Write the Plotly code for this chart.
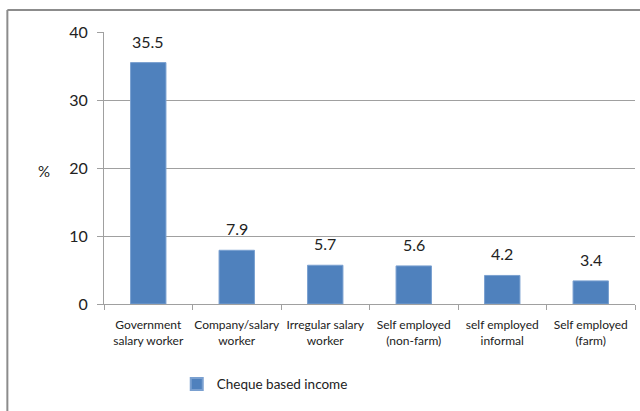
import plotly.graph_objects as go

# Share of households with cheque-based income, by employment type
categories = [
    "Government<br>salary worker",
    "Company/salary<br>worker",
    "Irregular salary<br>worker",
    "Self employed<br>(non-farm)",
    "self employed<br>informal",
    "Self employed<br>(farm)",
]
values = [35.5, 7.9, 5.7, 5.6, 4.2, 3.4]
series_name = "Cheque based income"
y_ticks = [0, 10, 20, 30, 40]

FONT = "Lato, 'Open Sans', sans-serif"
BLUE = "#4F81BD"
GRID = "#A0A0A0"

fig = go.Figure()
fig.add_trace(go.Bar(
    x=categories,
    y=values,
    name=series_name,
    marker=dict(color=BLUE, line=dict(color="#7AA0D0", width=1)),
    showlegend=True,
))

# value labels above each bar
for c, v in zip(categories, values):
    fig.add_annotation(
        x=c, y=v, text=f"{v:.1f}", showarrow=False,
        yanchor="bottom", yshift=10,
        font=dict(family=FONT, size=16, color="#222222"),
    )

# "%" axis caption
fig.add_annotation(
    xref="paper", yref="paper", x=-0.128, y=0.49, text="%",
    showarrow=False, font=dict(family=FONT, size=15, color="#222222"),
)

# outer chart frame (top and left edges)
fig.add_shape(type="line", xref="paper", yref="paper",
              x0=-0.182, x1=1.02, y0=1.081, y1=1.081,
              line=dict(color="#8C8C8C", width=2))
fig.add_shape(type="line", xref="paper", yref="paper",
              x0=-0.182, x1=-0.182, y0=1.081, y1=-0.40,
              line=dict(color="#8C8C8C", width=2))

fig.update_layout(
    width=640, height=411,
    margin=dict(l=104, r=5, t=32, b=107),
    paper_bgcolor="white", plot_bgcolor="white",
    bargap=0.6,
    font=dict(family=FONT, color="#222222"),
    legend=dict(
        orientation="h", x=0.137, xanchor="left",
        y=-0.295, yanchor="middle",
        font=dict(family=FONT, size=13.5, color="#222222"),
        itemwidth=30, itemsizing="constant",
    ),
    xaxis=dict(
        showline=True, linecolor=GRID, linewidth=1,
        ticks="outside", ticklen=5, tickcolor=GRID,
        tickson="boundaries", tickangle=0,
        tickfont=dict(family=FONT, size=12, color="#222222"),
        ticklabelstandoff=10,
        showgrid=False,
    ),
    yaxis=dict(
        range=[0, 40], tickvals=y_ticks,
        showline=True, linecolor=GRID, linewidth=1,
        ticks="outside", ticklen=6, tickcolor=GRID,
        showgrid=True, gridcolor=GRID, gridwidth=1,
        tickfont=dict(family=FONT, size=16, color="#222222"),
        ticklabelstandoff=6,
        zeroline=False,
    ),
)

fig.write_html("out.html")
